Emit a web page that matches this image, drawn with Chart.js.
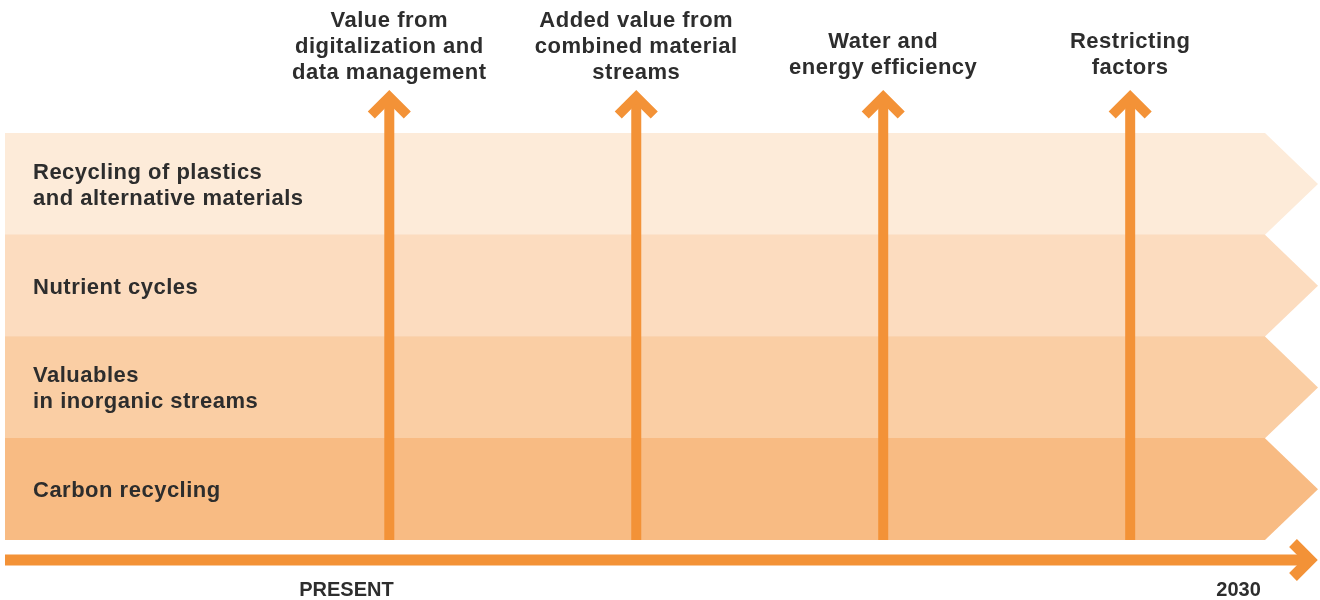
<!DOCTYPE html>
<html><head><meta charset="utf-8">
<script src="https://cdn.jsdelivr.net/npm/chart.js@4.4.1/dist/chart.umd.min.js"></script>
<style>html,body{margin:0;padding:0;background:#fff;}#wrap{width:1320px;height:600px;}</style>
</head><body><div id="wrap"><canvas id="c" width="1320" height="600"></canvas></div>
<script>
// ---- data ----
const bandLabels = [
  ['Recycling of plastics', 'and alternative materials'],
  ['Nutrient cycles'],
  ['Valuables', 'in inorganic streams'],
  ['Carbon recycling']
];
const bandStart = [0, 0, 0, 0];
const bandEnd = [100, 100, 100, 100];
const driverLabels = [
  ['Value from', 'digitalization and', 'data management'],
  ['Added value from', 'combined material', 'streams'],
  ['Water and', 'energy efficiency'],
  ['Restricting', 'factors']
];
const driverPositions = [30.5, 50.1, 69.7, 89.3];
const timelineLabels = ['PRESENT', '2030'];
const timelinePositions = [27.1, 97.9];
const timelineMin = 0;
const timelineMax = 100;

// ---- style ----
const bandColors = ['#FDEBD9', '#FCDCBF', '#FACEA4', '#F8BB83'];
const ORANGE = '#F39237';
const TEXT = '#2d2d2d';
const TIP = 53;
const FONT_MAIN = 'bold 22px "Liberation Sans", Arial, sans-serif';
const FONT_AXIS = 'bold 20px "Liberation Sans", Arial, sans-serif';

const diagramPlugin = {
  id: 'diagram',
  afterDatasetsDraw(chart) {
    const ctx = chart.ctx, xs = chart.scales.x, ys = chart.scales.y, area = chart.chartArea;
    const meta = chart.getDatasetMeta(0);
    ctx.save();
    // chevron tips of bands
    meta.data.forEach((bar, i) => {
      const h = bar.height;
      ctx.fillStyle = bandColors[i];
      ctx.beginPath();
      ctx.moveTo(bar.x - 1, bar.y - h / 2);
      ctx.lineTo(bar.x, bar.y - h / 2);
      ctx.lineTo(bar.x + TIP, bar.y);
      ctx.lineTo(bar.x, bar.y + h / 2);
      ctx.lineTo(bar.x - 1, bar.y + h / 2);
      ctx.closePath();
      ctx.fill();
    });
    // vertical driver arrows
    ctx.strokeStyle = ORANGE;
    ctx.lineJoin = 'miter';
    ctx.lineCap = 'butt';
    ctx.lineWidth = 10;
    const vy = area.top - 36;
    driverPositions.forEach(p => {
      const x = xs.getPixelForValue(p);
      ctx.beginPath();
      ctx.moveTo(x, area.bottom);
      ctx.lineTo(x, vy);
      ctx.stroke();
      ctx.beginPath();
      ctx.moveTo(x - 18, vy + 18);
      ctx.lineTo(x, vy);
      ctx.lineTo(x + 18, vy + 18);
      ctx.stroke();
    });
    // horizontal timeline arrow
    const hy = area.bottom + 20;
    const hx0 = xs.getPixelForValue(timelineMin);
    const hx1 = xs.getPixelForValue(timelineMax) + 45;
    ctx.lineWidth = 11;
    ctx.beginPath();
    ctx.moveTo(hx0, hy);
    ctx.lineTo(hx1, hy);
    ctx.stroke();
    ctx.beginPath();
    ctx.moveTo(hx1 - 17, hy - 17);
    ctx.lineTo(hx1, hy);
    ctx.lineTo(hx1 - 17, hy + 17);
    ctx.stroke();

    // band labels
    ctx.fillStyle = TEXT;
    ctx.font = FONT_MAIN;
    try { ctx.letterSpacing = '0.5px'; } catch (e) {}
    ctx.textBaseline = 'alphabetic';
    ctx.textAlign = 'left';
    bandLabels.forEach((lines, i) => {
      const cy = ys.getPixelForValue(i);
      const n = lines.length;
      lines.forEach((t, k) => {
        ctx.fillText(t, area.left + 28, cy + (k - (n - 1) / 2) * 26 + 8);
      });
    });
    // driver labels
    ctx.textAlign = 'center';
    driverLabels.forEach((lines, i) => {
      const x = xs.getPixelForValue(driverPositions[i]);
      const n = lines.length;
      const y0 = area.top - 106 + (3 - n) * 21;
      lines.forEach((t, k) => ctx.fillText(t, x, y0 + k * 26));
    });
    // timeline labels
    try { ctx.letterSpacing = '0px'; } catch (e) {}
    ctx.font = FONT_AXIS;
    timelineLabels.forEach((t, i) => {
      ctx.fillText(t, xs.getPixelForValue(timelinePositions[i]), area.bottom + 56);
    });
    ctx.restore();
  }
};

new Chart(document.getElementById('c'), {
  type: 'bar',
  data: {
    labels: bandLabels,
    datasets: [{
      data: bandStart.map((s, i) => [s, bandEnd[i]]),
      backgroundColor: bandColors,
      borderWidth: 0,
      borderSkipped: false,
      barPercentage: 1,
      categoryPercentage: 1
    }]
  },
  options: {
    indexAxis: 'y',
    responsive: false,
    animation: false,
    events: [],
    layout: { padding: { top: 133, bottom: 60, left: 5, right: 55 } },
    plugins: { legend: { display: false }, tooltip: { enabled: false } },
    scales: {
      x: { type: 'linear', min: timelineMin, max: timelineMax, display: false },
      y: { type: 'category', display: false }
    }
  },
  plugins: [diagramPlugin]
});
</script>
</body></html>
